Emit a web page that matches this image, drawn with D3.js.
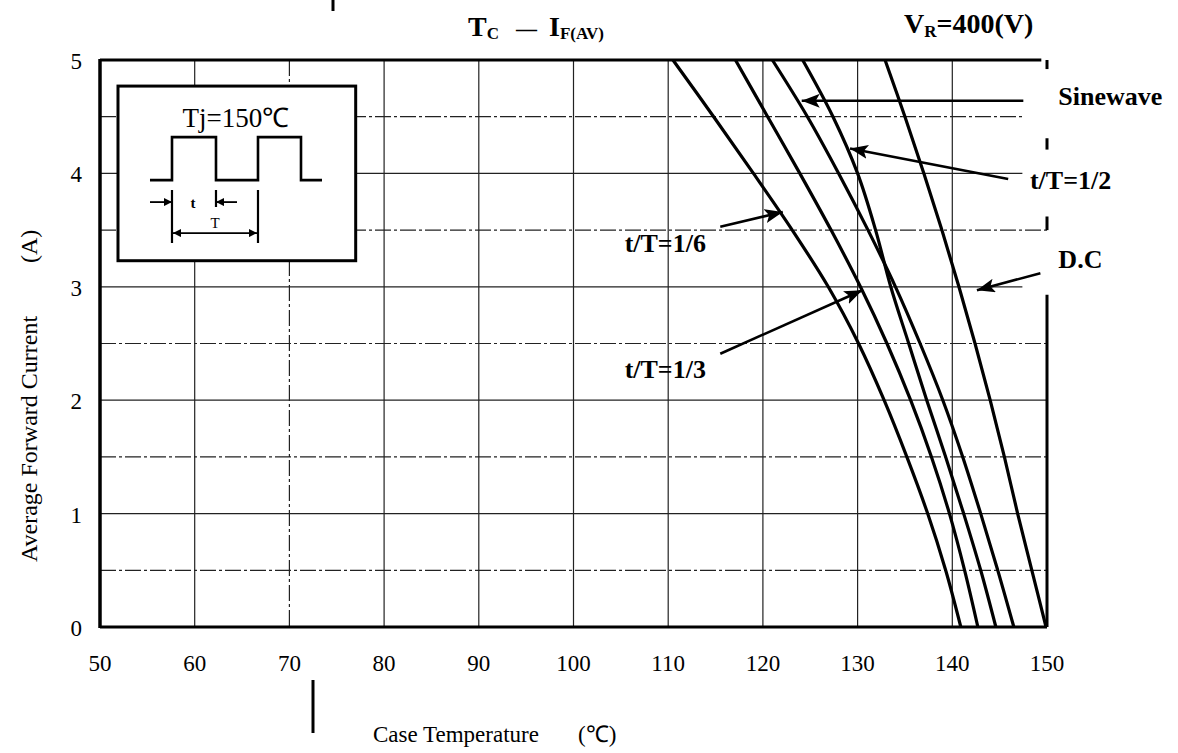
<!DOCTYPE html>
<html>
<head>
<meta charset="utf-8">
<script src="https://cdn.jsdelivr.net/npm/d3@7"></script>
<style>
body { margin: 0; background: #fff; }
svg text { font-family: "Liberation Serif", "Times New Roman", serif; fill: #000; }
</style>
</head>
<body>
<svg id="chart"></svg>
<script>
// current levels the curves were read at (A)
var currentLevels = [5, 4.5, 4, 3.5, 3, 2.5, 2, 1.5, 1, 0.5, 0];
// allowed case temperature (deg C) at each current level
var tempDuty16 = [110.5, 114.8, 119.0, 123.1, 126.9, 130.1, 132.8, 135.2, 137.4, 139.3, 140.9];
var tempDuty13 = [117.1, 120.5, 123.9, 127.2, 130.3, 133.1, 135.6, 137.8, 139.7, 141.3, 142.7];
var tempSine   = [121.0, 124.7, 128.0, 131.1, 134.0, 136.6, 139.0, 141.1, 143.0, 144.8, 146.5];
var tempDuty12 = [124.2, 127.4, 130.0, 131.9, 133.5, 135.4, 137.3, 139.3, 141.2, 143.0, 144.6];
var tempDC     = [132.9, 135.0, 137.0, 138.9, 140.7, 142.4, 144.0, 145.5, 146.9, 148.4, 149.9];

var xTicks = [50, 60, 70, 80, 90, 100, 110, 120, 130, 140, 150];
var yTicks = [0, 1, 2, 3, 4, 5];
var hGrid = [0.5, 1, 1.5, 2, 2.5, 3, 3.5, 4, 4.5];
var vGrid = [60, 70, 80, 90, 100, 110, 120, 130, 140];

var margin = {top: 60, right: 131, bottom: 126, left: 100},
    width = 1178 - margin.left - margin.right,
    height = 753 - margin.top - margin.bottom;

var xScale = d3.scaleLinear().domain([50, 150]).range([0, width]);
var yScale = d3.scaleLinear().domain([0, 5]).range([height, 0]);

var root = d3.select("#chart")
    .attr("width", 1178)
    .attr("height", 753);

root.append("rect").attr("width", 1178).attr("height", 753).attr("fill", "#fff");

var defs = root.append("defs");
defs.append("marker")
    .attr("id", "head")
    .attr("markerUnits", "userSpaceOnUse")
    .attr("markerWidth", 20).attr("markerHeight", 14)
    .attr("refX", 18).attr("refY", 7)
    .attr("orient", "auto")
    .append("path").attr("d", "M0,0 L18,7 L0,14 L4,7 z").attr("fill", "#000");
defs.append("marker")
    .attr("id", "small")
    .attr("markerUnits", "userSpaceOnUse")
    .attr("markerWidth", 9).attr("markerHeight", 8)
    .attr("refX", 8).attr("refY", 4)
    .attr("orient", "auto")
    .append("path").attr("d", "M0,0 L8,4 L0,8 z").attr("fill", "#000");

var svg = root.append("g")
    .attr("transform", "translate(" + margin.left + "," + margin.top + ")");

// grid
svg.selectAll(".hgrid")
    .data(hGrid)
    .enter().append("line")
    .attr("class", "hgrid")
    .attr("x1", 0)
    .attr("x2", function(d) { return (d == 4.5 || d == 4 || d == 3) ? xScale(147.4) : width; })
    .attr("y1", function(d) { return yScale(d); })
    .attr("y2", function(d) { return yScale(d); })
    .attr("stroke", "#222")
    .attr("stroke-width", 1.2)
    .attr("stroke-dasharray", function(d) { return d % 1 ? "16,3,3,3" : null; });

svg.selectAll(".vgrid")
    .data(vGrid)
    .enter().append("line")
    .attr("class", "vgrid")
    .attr("x1", function(d) { return xScale(d); })
    .attr("x2", function(d) { return xScale(d); })
    .attr("y1", 0)
    .attr("y2", height)
    .attr("stroke", "#222")
    .attr("stroke-width", 1.2)
    .attr("stroke-dasharray", function(d) { return d == 70 ? "16,3,3,3" : null; });

// frame
svg.append("line").attr("x1", 0).attr("x2", 0).attr("y1", -1).attr("y2", height + 1)
    .attr("stroke", "#000").attr("stroke-width", 3.5);
svg.append("line").attr("x1", 0).attr("x2", width).attr("y1", height).attr("y2", height)
    .attr("stroke", "#000").attr("stroke-width", 3);
svg.append("line").attr("x1", 0).attr("x2", xScale(149.4)).attr("y1", 0).attr("y2", 0)
    .attr("stroke", "#000").attr("stroke-width", 3);
var rightFrame = [[5, 4.92], [4.31, 4.21], [3.62, 3.5], [2.93, 0]];
svg.selectAll(".rframe")
    .data(rightFrame)
    .enter().append("line")
    .attr("x1", width).attr("x2", width)
    .attr("y1", function(d) { return yScale(d[0]); })
    .attr("y2", function(d) { return yScale(d[1]); })
    .attr("stroke", "#000").attr("stroke-width", 3);

// tick labels
svg.selectAll(".xlab")
    .data(xTicks)
    .enter().append("text")
    .attr("x", function(d) { return xScale(d); })
    .attr("y", height + 44)
    .attr("text-anchor", "middle")
    .style("font-size", "23px")
    .text(function(d) { return d; });

svg.selectAll(".ylab")
    .data(yTicks)
    .enter().append("text")
    .attr("x", -18)
    .attr("y", function(d) { return yScale(d) + 9; })
    .attr("text-anchor", "end")
    .style("font-size", "23px")
    .text(function(d) { return d; });

// curves
var line = d3.line()
    .x(function(d) { return xScale(d.t); })
    .y(function(d) { return yScale(d.i); })
    .curve(d3.curveCatmullRom.alpha(0.5));

[tempDuty16, tempDuty13, tempSine, tempDuty12, tempDC].forEach(function(temps) {
    var pts = currentLevels.map(function(c, k) { return {t: temps[k], i: c}; });
    svg.append("path")
        .datum(pts)
        .attr("d", line)
        .attr("fill", "none")
        .attr("stroke", "#000")
        .attr("stroke-width", 3.2);
});

// labels with arrows (data coordinates)
var notes = [
    {text: "Sinewave", lx: 151.2, ly: 4.60, from: [147.5, 4.64], to: [124.1, 4.64]},
    {text: "t/T=1/2", lx: 148.2, ly: 3.86, from: [145.9, 3.95], to: [129.2, 4.22]},
    {text: "D.C", lx: 151.2, ly: 3.17, from: [149.3, 3.12], to: [142.6, 2.97]},
    {text: "t/T=1/6", lx: 105.4, ly: 3.31, from: [115.5, 3.53], to: [122.1, 3.66]},
    {text: "t/T=1/3", lx: 105.4, ly: 2.20, from: [115.5, 2.41], to: [130.5, 2.97]}
];
notes.forEach(function(n) {
    svg.append("line")
        .attr("x1", xScale(n.from[0])).attr("y1", yScale(n.from[1]))
        .attr("x2", xScale(n.to[0])).attr("y2", yScale(n.to[1]))
        .attr("stroke", "#000").attr("stroke-width", 2.6)
        .attr("marker-end", "url(#head)");
    svg.append("text")
        .attr("x", xScale(n.lx)).attr("y", yScale(n.ly))
        .style("font-size", "26px").style("font-weight", "bold")
        .text(n.text);
});

// inset with the waveform
var box = {t0: 51.9, t1: 77.0, i0: 4.77, i1: 3.23};
var bx = xScale(box.t0), by = yScale(box.i0),
    bw = xScale(box.t1) - bx, bh = yScale(box.i1) - by;
var inset = svg.append("g").attr("transform", "translate(" + bx + "," + by + ")");
inset.append("rect").attr("width", bw).attr("height", bh)
    .attr("fill", "#fff").attr("stroke", "#000").attr("stroke-width", 3);
inset.append("text").attr("x", bw / 2 - 1).attr("y", 41)
    .attr("text-anchor", "middle").style("font-size", "27px")
    .text("Tj=150℃");
inset.append("path")
    .attr("d", "M32,94 L54,94 L54,51 L98,51 L98,94 L140,94 L140,51 L183,51 L183,94 L204,94")
    .attr("fill", "none").attr("stroke", "#000").attr("stroke-width", 2.6);
inset.append("path")
    .attr("d", "M54,104 L54,157 M98,104 L98,121 M140,104 L140,157")
    .attr("fill", "none").attr("stroke", "#000").attr("stroke-width", 2.2);
inset.append("line").attr("x1", 32).attr("x2", 54).attr("y1", 116).attr("y2", 116)
    .attr("stroke", "#000").attr("stroke-width", 1.8).attr("marker-end", "url(#small)");
inset.append("line").attr("x1", 119).attr("x2", 98).attr("y1", 116).attr("y2", 116)
    .attr("stroke", "#000").attr("stroke-width", 1.8).attr("marker-end", "url(#small)");
inset.append("line").attr("x1", 97).attr("x2", 55).attr("y1", 147).attr("y2", 147)
    .attr("stroke", "#000").attr("stroke-width", 1.8).attr("marker-end", "url(#small)");
inset.append("line").attr("x1", 97).attr("x2", 139).attr("y1", 147).attr("y2", 147)
    .attr("stroke", "#000").attr("stroke-width", 1.8).attr("marker-end", "url(#small)");
inset.append("text").attr("x", 75).attr("y", 122).attr("text-anchor", "middle")
    .style("font-size", "15px").style("font-weight", "bold").text("t");
inset.append("text").attr("x", 97).attr("y", 142).attr("text-anchor", "middle")
    .style("font-size", "15px").text("T");

// titles
var title = root.append("text").attr("x", 468).attr("y", 36)
    .style("font-size", "28px").style("font-weight", "bold");
title.append("tspan").text("T");
title.append("tspan").attr("dy", 3).style("font-size", "17px").text("C");
title.append("tspan").attr("x", 516).attr("dy", -3).style("font-size", "21px").text("—");
title.append("tspan").attr("x", 549).style("font-size", "28px").text("I");
title.append("tspan").attr("dy", 3).style("font-size", "17px").text("F(AV)");

var vr = root.append("text").attr("x", 904).attr("y", 33)
    .style("font-size", "28px").style("font-weight", "bold");
vr.append("tspan").text("V");
vr.append("tspan").attr("dy", 4).style("font-size", "17px").text("R");
vr.append("tspan").attr("dy", -4).text("=400(V)");

root.append("text").attr("x", 373).attr("y", 742)
    .style("font-size", "23px")
    .text("Case Temperature");
root.append("text").attr("x", 578).attr("y", 742)
    .style("font-size", "23px")
    .text("(℃)");

root.append("text")
    .attr("transform", "translate(37,562) rotate(-90)")
    .style("font-size", "24px")
    .text("Average Forward Current");
root.append("text")
    .attr("transform", "translate(37,263) rotate(-90)")
    .style("font-size", "24px")
    .text("(A)");

// scan marks left on the original sheet
root.append("line").attr("x1", 313).attr("x2", 313).attr("y1", 680).attr("y2", 733)
    .attr("stroke", "#000").attr("stroke-width", 3);
root.append("line").attr("x1", 333).attr("x2", 333).attr("y1", 0).attr("y2", 11)
    .attr("stroke", "#000").attr("stroke-width", 3);
</script>
</body>
</html>
